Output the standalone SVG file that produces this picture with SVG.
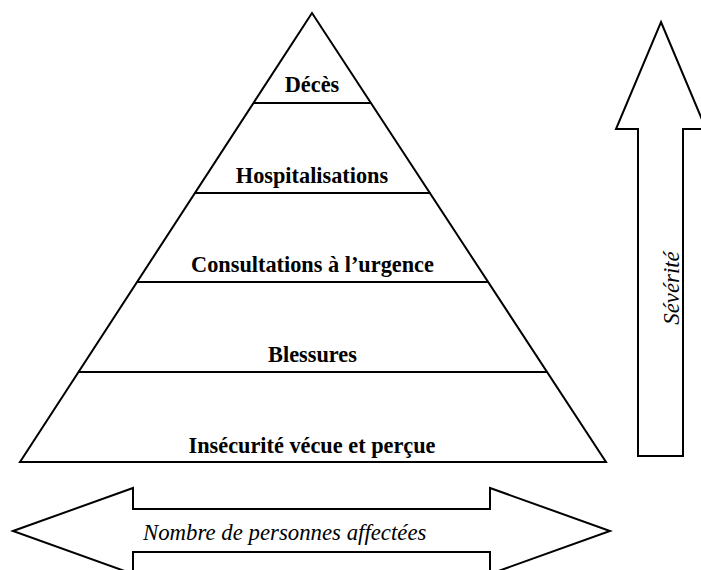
<svg xmlns="http://www.w3.org/2000/svg" width="701" height="570" viewBox="0 0 701 570">
<style>
.ln{fill:none;stroke:#000;stroke-width:2;stroke-linejoin:miter}
.ar{fill:#fff;stroke:#000;stroke-width:2;stroke-linejoin:miter}
.lb{font-family:"Liberation Serif",serif;font-weight:bold;font-size:22.3px;fill:#000;text-anchor:middle}
.it{font-family:"Liberation Serif",serif;font-style:italic;font-size:22.8px;fill:#000}
</style>
<rect width="701" height="570" fill="#fff"/>
<g id="pyramid">
<polygon class="ln" points="312,13 20,462 606,462"/>
</g>
<g id="connectors">
<line class="ln" x1="253.4" y1="103" x2="371.2" y2="103"/>
<line class="ln" x1="194.9" y1="193" x2="430.3" y2="193"/>
<line class="ln" x1="137.0" y1="282" x2="488.8" y2="282"/>
<line class="ln" x1="78.5" y1="372" x2="547.3" y2="372"/>
</g>
<g id="deces"><text class="lb" x="312" y="92">Décès</text></g>
<g id="hospitalisations"><text class="lb" x="312" y="183">Hospitalisations</text></g>
<g id="consultations"><text class="lb" x="312.5" y="272">Consultations à l’urgence</text></g>
<g id="blessures"><text class="lb" x="312.5" y="362">Blessures</text></g>
<g id="insecurite"><text class="lb" x="312" y="453">Insécurité vécue et perçue</text></g>
<g id="severite">
<polygon class="ar" points="661,22 706,129 683,129 683,456 638,456 638,129 616,129"/>
<text class="it" transform="translate(679,288) rotate(-90)" text-anchor="middle">Sévérité</text>
</g>
<g id="nombre">
<polygon class="ar" points="13,531 133,488 133,509 490,509 490,488 610,531 490,574 490,552 133,552 133,574"/>
<text class="it" x="143" y="540">Nombre de personnes affectées</text>
</g>
</svg>
